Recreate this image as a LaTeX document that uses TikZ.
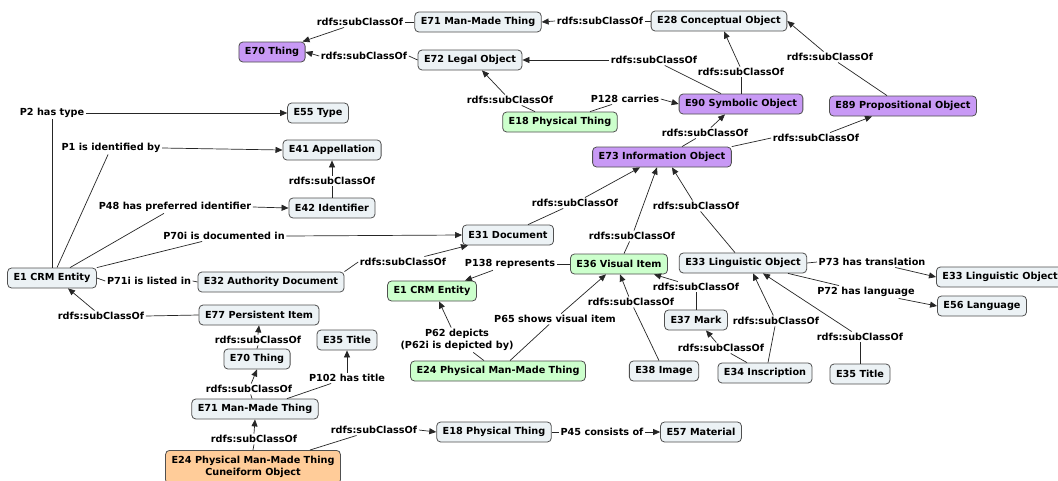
\documentclass[tikz,border=0pt]{standalone}
\usepackage{fontspec}
\setmainfont{DejaVu Sans}
\usetikzlibrary{arrows.meta}
\definecolor{cgray}{RGB}{236,242,245}
\definecolor{cpurple}{RGB}{200,153,245}
\definecolor{cgreen}{RGB}{204,255,204}
\definecolor{corange}{RGB}{255,204,153}
\definecolor{cborder}{RGB}{80,80,80}
\tikzset{
  base/.style={draw=cborder, line width=0.8pt, rounded corners=4pt, inner xsep=6pt, inner ysep=2pt, minimum height=20pt},
  cg/.style={base, fill=cgray},
  cp/.style={base, fill=cpurple},
  cgr/.style={base, fill=cgreen},
  co/.style={base, fill=corange, align=center, inner ysep=6pt},
  lab/.style={inner sep=1.5pt},
  ln/.style={draw=black!85, line width=0.7pt},
  arr/.style={ln, -{Triangle[length=7pt,width=6pt]}},
}
\begin{document}
\begin{tikzpicture}[x=1pt, y=-1pt, font=\fontsize{9.7pt}{12pt}\selectfont\bfseries]
\useasboundingbox[fill=white] (0,0) rectangle (1058,480);
% concepts
\node[cp] (thing) at (272,52) {E70 Thing};
\node[cg] (mmt) at (478,22) {E71 Man-Made Thing};
\node[cg] (concept) at (719,21) {E28 Conceptual Object};
\node[cg] (legal) at (470,60) {E72 Legal Object};
\node[cg] (type) at (318,113) {E55 Type};
\node[cg] (appel) at (332,150) {E41 Appellation};
\node[cg] (ident) at (332,208) {E42 Identifier};
\node[cgr] (phys1) at (560,122) {E18 Physical Thing};
\node[cp] (symb) at (741,104) {E90 Symbolic Object};
\node[cp] (prop) at (903,106) {E89 Propositional Object};
\node[cp] (info) at (662,157) {E73 Information Object};
\node[cg] (doc) at (508,235) {E31 Document};
\node[cg] (crm) at (52,278) {E1 CRM Entity};
\node[cg] (auth) at (271,282) {E32 Authority Document};
\node[cgr] (visual) at (619,264) {E36 Visual Item};
\node[cgr] (crm2) at (432,291) {E1 CRM Entity};
\node[cg] (ling) at (743,263) {E33 Linguistic Object};
\node[cg, anchor=west] (ling2) at (936,277) {E33 Linguistic Object};
\node[cg] (lang) at (982,306) {E56 Language};
\node[cg] (persist) at (259,315) {E77 Persistent Item};
\node[cg] (title1) at (347,340) {E35 Title};
\node[cg] (thing2) at (257,359) {E70 Thing};
\node[cg] (mmt2) at (255,409) {E71 Man-Made Thing};
\node[co, anchor=north] (cun) at (253,450) {E24 Physical Man-Made Thing\\Cuneiform Object};
\node[cgr] (pmmt) at (498,371) {E24 Physical Man-Made Thing};
\node[cg] (image) at (664,371) {E38 Image};
\node[cg] (mark) at (696,320) {E37 Mark};
\node[cg] (inscr) at (765,373) {E34 Inscription};
\node[cg] (title2) at (860,374) {E35 Title};
\node[cg] (phys2) at (494,432) {E18 Physical Thing};
\node[cg] (mat) at (701,432) {E57 Material};
% linking phrases
\node[lab] (l1) at (360,22) {rdfs:subClassOf};
\node[lab] (l2) at (364,56) {rdfs:subClassOf};
\node[lab] (l3) at (600,21) {rdfs:subClassOf};
\node[lab] (l4) at (654,60) {rdfs:subClassOf};
\node[lab] (l5) at (741,72) {rdfs:subClassOf};
\node[lab] (l6) at (830,57) {rdfs:subClassOf};
\node[lab] (l7) at (510,100) {rdfs:subClassOf};
\node[lab] (l8) at (625,99) {P128 carries};
\node[lab] (l9) at (705,133) {rdfs:subClassOf};
\node[lab] (l10) at (816,138) {rdfs:subClassOf};
\node[lab] (l11) at (52,113) {P2 has type};
\node[lab] (l12) at (111,148) {P1 is identified by};
\node[lab] (l13) at (332,181) {rdfs:subClassOf};
\node[lab] (l14) at (175,207) {P48 has preferred identifier};
\node[lab] (l15) at (224,236) {P70i is documented in};
\node[lab] (l16) at (149,281) {P71i is listed in};
\node[lab] (l17) at (403,262) {rdfs:subClassOf};
\node[lab] (l18) at (575,203) {rdfs:subClassOf};
\node[lab] (l19) at (632,236) {rdfs:subClassOf};
\node[lab] (l20) at (696,206) {rdfs:subClassOf};
\node[lab] (l21) at (510,264) {P138 represents};
\node[lab] (l22) at (872,262) {P73 has translation};
\node[lab] (l23) at (866,292) {P72 has language};
\node[lab] (l24) at (696,287) {rdfs:subClassOf};
\node[lab] (l25) at (631,302) {rdfs:subClassOf};
\node[lab] (l26) at (555,319) {P65 shows visual item};
\node[lab, align=center] (l27) at (457,340) {P62 depicts\\(P62i is depicted by)};
\node[lab] (l28) at (776,321) {rdfs:subClassOf};
\node[lab] (l29) at (721,348) {rdfs:subClassOf};
\node[lab] (l30) at (860,337) {rdfs:subClassOf};
\node[lab] (l31) at (101,316) {rdfs:subClassOf};
\node[lab] (l32) at (258,340) {rdfs:subClassOf};
\node[lab] (l33) at (249,389) {rdfs:subClassOf};
\node[lab] (l34) at (347,378) {P102 has title};
\node[lab] (l35) at (254,439) {rdfs:subClassOf};
\node[lab] (l36) at (374,430) {rdfs:subClassOf};
\node[lab] (l37) at (602,432) {P45 consists of};
% connectors
\draw[ln] (mmt) -- (l1);
\draw[arr] (l1) -- (thing);
\draw[ln] (legal.west) -- (l2.east);
\draw[arr] (l2.west) -- (thing.east);
\draw[ln] (concept.west) -- (l3.east);
\draw[arr] (l3.west) -- (mmt.east);
\draw[ln] ([xshift=-20]symb.north) -- (l4);
\draw[arr] (l4.west) -- (legal.east);
\draw[ln] (symb.north) -- (l5.south);
\draw[arr] ([xshift=-1]l5.north) -- ([xshift=5]concept.south);
\draw[ln] ([xshift=-16]prop.north) -- (l6);
\draw[arr] (l6) -- (concept.east);
\draw[ln] ([xshift=-25]phys1.north) -- (l7);
\draw[arr] (l7) -- ([xshift=12]legal.south);
\draw[ln] ([xshift=30]phys1.north) -- ([xshift=-13]l8.south);
\draw[arr] (l8.east) -- (symb.west);
\draw[ln] ([xshift=20]info.north) -- (l9);
\draw[arr] (l9) -- ([xshift=-16]symb.south);
\draw[ln] (info.north east) -- (l10.west);
\draw[arr] (l10) -- ([xshift=-31]prop.south);
\draw[ln] (crm.north) -- (l11.south);
\draw[arr] (l11.east) -- (type.west);
\draw[ln] ([xshift=5]crm.north) -- (l12);
\draw[arr] (l12.east) -- (appel.west);
\draw[ln] (ident) -- (l13);
\draw[arr] (l13) -- (appel);
\draw[ln] ([xshift=18]crm.north) -- (l14);
\draw[arr] (l14.east) -- (ident.west);
\draw[ln] (crm.north east) -- (l15);
\draw[arr] (l15.east) -- (doc.west);
\draw[ln] (crm.east) -- (l16.west);
\draw[ln] (l16.east) -- (auth.west);
\draw[ln] (auth.north east) -- (l17.west);
\draw[arr] (l17) -- ([xshift=-40]doc.south);
\draw[ln] ([xshift=20]doc.north) -- (l18);
\draw[arr] (l18) -- ([xshift=-22]info.south);
\draw[ln] ([xshift=5]visual.north) -- (l19);
\draw[arr] (l19) -- ([xshift=-5]info.south);
\draw[ln] ([xshift=-8]ling.north) -- (l20);
\draw[arr] (l20) -- ([xshift=10]info.south);
\draw[ln] (visual.west) -- (l21.east);
\draw[arr] (l21) -- ([xshift=33]crm2.north);
\draw[ln] (ling.east) -- (l22.west);
\draw[arr] (l22) -- (ling2.west);
\draw[ln] ([xshift=45]ling.south) -- (l23);
\draw[arr] (l23) -- (lang.west);
\draw[ln] (mark.north) -- (l24.south);
\draw[arr] (l24) -- ([xshift=35]visual.south);
\draw[ln] ([xshift=-5]image.north) -- (l25);
\draw[arr] (l25) -- ([xshift=1]visual.south);
\draw[ln] ([xshift=12]pmmt.north) -- (l26);
\draw[arr] (l26) -- ([xshift=-13]visual.south);
\draw[ln] ([xshift=-14]pmmt.north) -- (l27);
\draw[arr] (l27) -- ([xshift=7]crm2.south);
\draw[ln] ([xshift=3]inscr.north) -- (l28);
\draw[arr] (l28) -- ([xshift=10]ling.south);
\draw[ln] ([xshift=-18]inscr.north) -- (l29);
\draw[arr] (l29) -- ([xshift=10]mark.south);
\draw[ln] (title2.north) -- (l30.south);
\draw[arr] (l30) -- ([xshift=20]ling.south);
\draw[ln] (persist.west) -- (l31.east);
\draw[arr] (l31) -- ([xshift=16]crm.south);
\draw[ln] (thing2.north) -- (l32.south);
\draw[arr] (l32.north) -- (persist.south);
\draw[ln] ([xshift=-3]mmt2.north) -- (l33);
\draw[arr] (l33) -- (thing2.south);
\draw[ln] ([xshift=32]mmt2.north) -- (l34);
\draw[arr] (l34.north) -- (title1.south);
\draw[ln] (cun.north) -- (l35.south);
\draw[arr] (l35.north) -- (mmt2.south);
\draw[ln] ([xshift=57]cun.north) -- (l36);
\draw[arr] (l36.east) -- (phys2.west);
\draw[ln] (phys2.east) -- (l37.west);
\draw[arr] (l37.east) -- (mat.west);
\end{tikzpicture}
\end{document}
